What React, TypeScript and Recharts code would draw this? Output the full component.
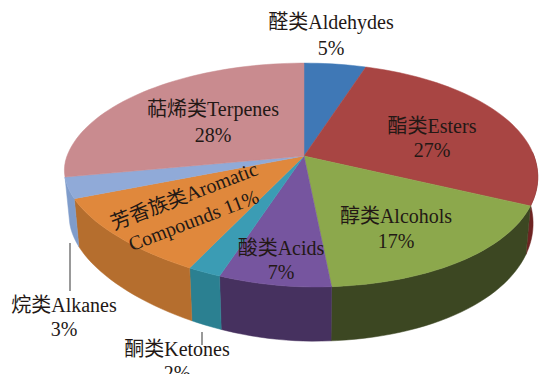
import { Pie, PieChart } from "recharts";

const categories = ["醛类Aldehydes", "酯类Esters", "醇类Alcohols", "酸类Acids", "酮类Ketones", "芳香族类Aromatic Compounds", "烷类Alkanes", "萜烯类Terpenes"];
const shares = [5, 27, 17, 7, 2, 11, 3, 28];
const topColors = ["#3F78B6", "#A84543", "#8CA84C", "#76559F", "#3B9CB4", "#E0883C", "#90AAD8", "#C98B8F"];
const wallColors = ["#2F5A8A", "#6E2422", "#3C4722", "#46315F", "#2B8091", "#B56E2E", "#7F9CCB", "#A06A6E"];

const rows = categories.map((name, i) => ({
  name,
  value: shares[i],
  fill: topColors[i],
  wall: wallColors[i],
}));

// tilted disc projection
const TILT = 0.4655;
const NEAR = 0.17;
const LEFT_BULGE = 3.5;
const FRONT_SKEW = 10;
const FRONT_LEFT_SKEW = 30;
const DEPTH = 45;
const BOTTOM_SHRINK = 0.98;
// clockwise degrees from 12 o'clock where the side wall shows
const WALL_FROM = 88;
const WALL_TO = 259.2;

function project(deg: number, r: number, cx: number, cy: number) {
  const t = (deg * Math.PI) / 180;
  const u = Math.sin(t);
  const v = -Math.cos(t);
  const w = 1 - NEAR * v;
  const front = Math.max(v, 0);
  const skew = front * front * (FRONT_SKEW + FRONT_LEFT_SKEW * Math.max(-u, 0));
  return {
    x: cx + (r * u - LEFT_BULGE * u * u) / w + skew,
    y: cy + (r * TILT * v) / w,
    w,
  };
}

function arcDegrees(from: number, to: number) {
  const out: number[] = [];
  for (let d = from; d < to; d += 2) out.push(d);
  out.push(to);
  return out;
}

function Slice3D(props: any) {
  const { cx, cy, outerRadius, startAngle, endAngle, fill, wall } = props;
  const from = 90 - startAngle;
  const to = 90 - endAngle;
  const rim = arcDegrees(from, to).map((d) => project(d, outerRadius, cx, cy));
  const face = `M${cx},${cy} ` + rim.map((p) => `L${p.x},${p.y}`).join(" ") + " Z";

  const wallFrom = Math.max(from, WALL_FROM);
  const wallTo = Math.min(to, WALL_TO);
  let side = "";
  if (wallTo > wallFrom) {
    const upper = arcDegrees(wallFrom, wallTo).map((d) => project(d, outerRadius, cx, cy));
    const lower = [...upper].reverse().map((p) => ({
      x: cx + (p.x - cx) * BOTTOM_SHRINK,
      y: p.y + DEPTH / p.w,
    }));
    side = "M" + [...upper, ...lower].map((p) => `${p.x},${p.y}`).join(" L") + " Z";
  }

  return (
    <g>
      {side && <path d={side} fill={wall} stroke={wall} strokeWidth={0.5} />}
      <path d={face} fill={fill} stroke={fill} strokeWidth={0.5} />
    </g>
  );
}

const labelLayout = [
  { x: 331, y: 24, lines: ["醛类Aldehydes", "5%"], gap: 26 },
  { x: 432, y: 128, lines: ["酯类Esters", "27%"], gap: 24 },
  { x: 396, y: 218, lines: ["醇类Alcohols", "17%"], gap: 25 },
  { x: 281, y: 250, lines: ["酸类Acids", "7%"], gap: 24 },
  { x: 177, y: 351, lines: ["酮类Ketones", "2%"], gap: 24, leader: [202, 332, 202, 345] },
  { x: 185, y: 198, lines: ["芳香族类Aromatic", "Compounds 11%"], gap: 26, rotate: -21 },
  { x: 64, y: 307, lines: ["烷类Alkanes", "3%"], gap: 24, leader: [70, 243, 70, 291] },
  { x: 213, y: 111, lines: ["萜烯类Terpenes", "28%"], gap: 26 },
];

function SliceLabel({ index }: any) {
  const item = labelLayout[index];
  return (
    <g>
      {item.leader && (
        <line
          x1={item.leader[0]}
          y1={item.leader[1]}
          x2={item.leader[2]}
          y2={item.leader[3]}
          stroke="#555"
          strokeWidth={1.2}
        />
      )}
      <text
        textAnchor="middle"
        fontSize={20}
        fontFamily="'Liberation Serif', 'Noto Sans CJK SC', serif"
        fill="#231815"
        transform={item.rotate ? `rotate(${item.rotate} ${item.x} ${item.y})` : undefined}
      >
        {item.lines.map((line, i) => (
          <tspan key={line} x={item.x} y={item.y + i * item.gap} dominantBaseline="middle">
            {line}
          </tspan>
        ))}
      </text>
    </g>
  );
}

export default function App() {
  return (
    <div style={{ position: "absolute", left: 0, top: 0, width: 539, height: 374, overflow: "hidden", background: "#fff" }}>
      <PieChart width={539} height={374} margin={{ top: 0, right: 0, bottom: 0, left: 0 }}>
        <Pie
          data={rows}
          dataKey="value"
          nameKey="name"
          cx={304}
          cy={156}
          outerRadius={233.5}
          startAngle={90}
          endAngle={-270}
          stroke="none"
          isAnimationActive={false}
          shape={Slice3D}
          label={SliceLabel}
          labelLine={false}
        />
      </PieChart>
    </div>
  );
}
